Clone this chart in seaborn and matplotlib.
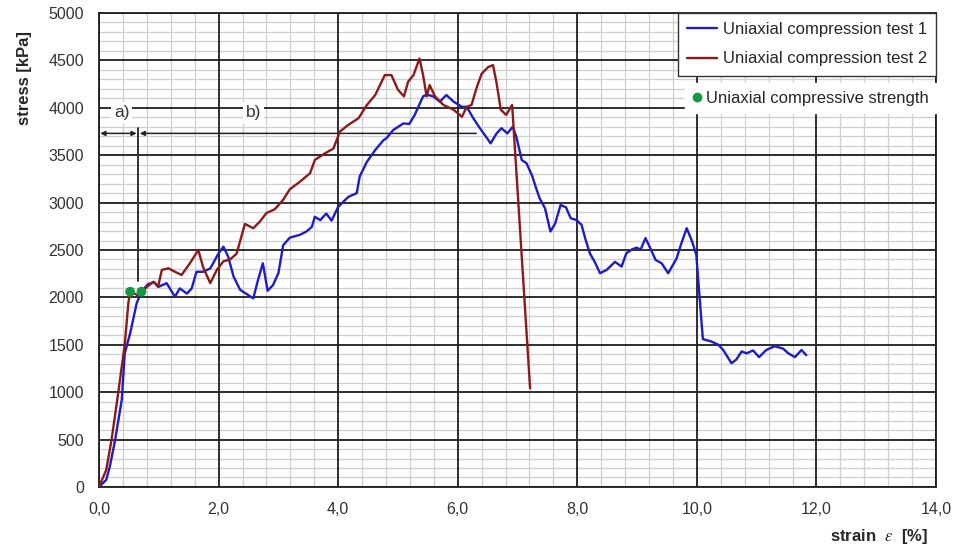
import numpy as np
import pandas as pd
import matplotlib
matplotlib.use("Agg")
import matplotlib.pyplot as plt
import seaborn as sns

sns.set_style("white")
plt.rcParams["font.family"] = ["Liberation Sans", "DejaVu Sans"]
plt.rcParams["mathtext.fontset"] = "stix"

# test 1 (blue), strain in %, stress in kPa
strain_1 = [0, 0.12, 0.18, 0.27, 0.38, 0.43, 0.52, 0.63, 0.71, 0.82, 0.92, 0.99,
            1.13, 1.27, 1.35, 1.47, 1.55, 1.63, 1.74, 1.86, 2.0, 2.08, 2.16, 2.25,
            2.36, 2.58, 2.66, 2.74, 2.82, 2.91, 3.0, 3.08, 3.19, 3.36, 3.47, 3.56,
            3.61, 3.70, 3.80, 3.89, 4.0, 4.17, 4.31, 4.36, 4.48, 4.62, 4.76, 4.81,
            4.92, 5.09, 5.19, 5.28, 5.42, 5.48, 5.59, 5.70, 5.81, 5.93, 6.07, 6.15,
            6.26, 6.37, 6.45, 6.55, 6.65, 6.73, 6.83, 6.92, 6.98, 7.07, 7.15, 7.24,
            7.32, 7.37, 7.46, 7.55, 7.63, 7.72, 7.81, 7.89, 7.99, 8.07, 8.14, 8.21,
            8.29, 8.38, 8.49, 8.63, 8.74, 8.82, 8.91, 8.99, 9.06, 9.14, 9.22, 9.31,
            9.41, 9.52, 9.66, 9.74, 9.83, 9.92, 9.99, 10.1, 10.24, 10.36, 10.44,
            10.58, 10.66, 10.75, 10.83, 10.94, 11.04, 11.16, 11.30, 11.44, 11.53,
            11.64, 11.75, 11.83]
stress_1 = [0, 75, 215, 500, 920, 1410, 1620, 1940, 2060, 2140, 2160, 2110,
            2150, 2007, 2095, 2040, 2095, 2270, 2270, 2305, 2465, 2535, 2430, 2220,
            2080, 1990, 2185, 2360, 2070, 2130, 2255, 2550, 2630, 2660, 2695, 2745,
            2850, 2815, 2885, 2810, 2955, 3060, 3100, 3275, 3430, 3555, 3660, 3680,
            3765, 3835, 3830, 3925, 4120, 4140, 4120, 4065, 4135, 4065, 4010, 4010,
            3890, 3785, 3715, 3625, 3730, 3785, 3730, 3800, 3695, 3450, 3415, 3290,
            3135, 3045, 2940, 2695, 2780, 2975, 2950, 2835, 2815, 2765, 2605, 2465,
            2375, 2255, 2290, 2375, 2325, 2465, 2505, 2525, 2505, 2625, 2520, 2395,
            2360, 2255, 2410, 2570, 2730, 2590, 2450, 1560, 1535, 1500, 1445,
            1305, 1345, 1430, 1410, 1440, 1370, 1445, 1485, 1460, 1410,
            1370, 1445, 1390]

# test 2 (dark red)
strain_2 = [0, 0.12, 0.21, 0.32, 0.38, 0.43, 0.49, 0.52, 0.66, 0.80, 0.91, 0.99,
            1.05, 1.16, 1.27, 1.38, 1.52, 1.66, 1.74, 1.86, 1.97, 2.08, 2.19, 2.30,
            2.44, 2.58, 2.69, 2.80, 2.94, 3.08, 3.19, 3.36, 3.53, 3.61, 3.78, 3.92,
            4.03, 4.17, 4.34, 4.48, 4.62, 4.78, 4.89, 5.0, 5.10, 5.17, 5.26, 5.36,
            5.42, 5.48, 5.53, 5.62, 5.76, 5.93, 6.07, 6.15, 6.23, 6.32, 6.40, 6.51,
            6.59, 6.65, 6.72, 6.81, 6.91, 7.21]
stress_2 = [0, 180, 500, 990, 1270, 1500, 1940, 2060, 2020, 2110, 2165, 2120,
            2290, 2307, 2270, 2236, 2360, 2500, 2320, 2150, 2290, 2380, 2400, 2460,
            2775, 2730, 2800, 2890, 2930, 3030, 3140, 3220, 3310, 3450, 3520, 3570,
            3750, 3820, 3890, 4030, 4135, 4345, 4345, 4190, 4120, 4275, 4345, 4520,
            4345, 4120, 4240, 4120, 4030, 3980, 3905, 4010, 4030, 4220, 4360, 4430,
            4450, 4260, 3980, 3925, 4030, 1040]

# uniaxial compressive strength points
ucs_strain = [0.52, 0.71]
ucs_stress = [2060, 2060]

labels = ["Uniaxial compression test 1", "Uniaxial compression test 2"]
ucs_label = "Uniaxial compressive strength"

df = pd.concat([
    pd.DataFrame({"strain": strain_1, "stress": stress_1, "test": labels[0]}),
    pd.DataFrame({"strain": strain_2, "stress": stress_2, "test": labels[1]}),
])
df_ucs = pd.DataFrame({"strain": ucs_strain, "stress": ucs_stress})

fig = plt.figure(figsize=(9.56, 5.51), dpi=100)
ax = fig.add_axes([0.1036, 0.1162, 0.8755, 0.8602])

sns.lineplot(data=df, x="strain", y="stress", hue="test", sort=False,
             estimator=None, palette=["#1c1cc8", "#8c1a1a"], linewidth=1.7,
             ax=ax, zorder=3)
sns.scatterplot(data=df_ucs, x="strain", y="stress", color="#139944", s=50,
                edgecolor="none", ax=ax, zorder=4)

ax.set_xlim(0, 14)
ax.set_ylim(0, 5000)
xt = np.arange(0, 14.01, 2)
yt = np.arange(0, 5001, 500)
ax.set_xticks(xt)
ax.set_xticklabels([f"{v:.1f}".replace(".", ",") for v in xt])
ax.set_yticks(yt)
ax.set_xticks(np.arange(0, 14.01, 0.4), minor=True)
ax.set_yticks(np.arange(0, 5001, 100), minor=True)
ax.tick_params(which="major", length=4, width=1, color="#222222", pad=7,
               labelsize=11.5, labelcolor="#333333")
ax.tick_params(which="minor", length=0)
ax.grid(which="minor", color="#cfcfcf", linewidth=0.9)
ax.set_axisbelow(True)
# major grid drawn on top of the minor one
for v in xt:
    ax.axvline(v, color="#1e1e1e", lw=1.3, zorder=1)
for v in yt:
    ax.axhline(v, color="#1e1e1e", lw=1.3, zorder=1)
for s in ax.spines.values():
    s.set_color("#1e1e1e")
    s.set_linewidth(1.3)

ax.set_ylabel("stress [kPa]", fontsize=12, fontweight="bold")
ax.yaxis.set_label_coords(-0.08, 0.863)
ax.set_xlabel(r"strain  $\varepsilon$  [%]", fontsize=12, fontweight="bold", ha="right")
ax.xaxis.set_label_coords(0.99, -0.085)

# a) / b) ranges
ax.plot([0.65, 0.65], [2170, 3790], color="#333333", lw=1.4, zorder=2.5)
ax.annotate("", xy=(0.02, 3730), xytext=(0.63, 3730),
            arrowprops=dict(arrowstyle="<|-|>", color="#222222", lw=1.1,
                            mutation_scale=7, shrinkA=0, shrinkB=0), zorder=2.5)
ax.annotate("", xy=(0.68, 3730), xytext=(6.31, 3730),
            arrowprops=dict(arrowstyle="-|>", color="#222222", lw=1.1,
                            mutation_scale=7, shrinkA=0, shrinkB=0), zorder=2.5)
box = dict(facecolor="white", edgecolor="none", pad=2)
ax.text(0.38, 3950, "a)", fontsize=12.5, color="#333333", ha="center", va="center",
        bbox=box, zorder=2.6)
ax.text(2.59, 3950, "b)", fontsize=12.5, color="#333333", ha="center", va="center",
        bbox=box, zorder=2.6)

# legends
handles, _ = ax.get_legend_handles_labels()
leg = ax.legend(handles[:2], labels, loc="upper right", bbox_to_anchor=(1, 1),
                borderaxespad=0, fontsize=12, frameon=True, fancybox=False,
                handlelength=1.8, handletextpad=0.35, labelspacing=0.85,
                borderpad=0.55)
leg.get_frame().set_edgecolor("#333333")
leg.get_frame().set_linewidth(1)
leg.get_frame().set_alpha(1)
ax.add_artist(leg)

dot = plt.Line2D([], [], marker="o", ls="none", color="#139944", markersize=6)
leg2 = ax.legend([dot], [ucs_label], loc="upper right",
                 bbox_to_anchor=(1, 0.852), borderaxespad=0, fontsize=12,
                 frameon=True, fancybox=False, handlelength=0.5,
                 handletextpad=0.3, borderpad=0.45)
leg2.get_frame().set_edgecolor("white")
leg2.get_frame().set_facecolor("white")
leg2.get_frame().set_alpha(1)

fig.savefig("out.png", dpi=100)
